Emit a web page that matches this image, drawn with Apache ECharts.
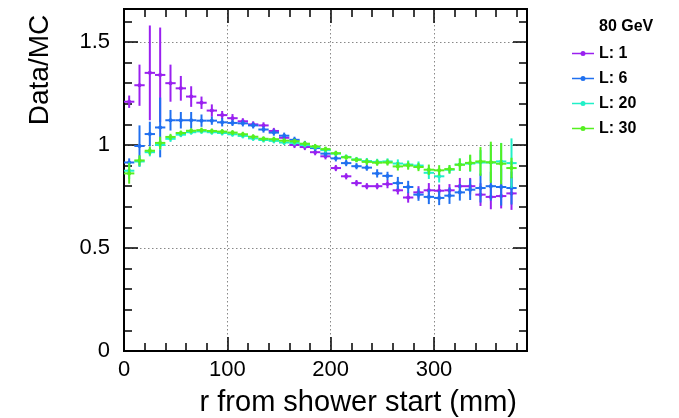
<!DOCTYPE html>
<html>
<head>
<meta charset="utf-8">
<script src="https://cdn.jsdelivr.net/npm/echarts@6/dist/echarts.min.js"></script>
<style>html,body{margin:0;padding:0;background:#fff;}#c{width:679px;height:418px;}</style>
</head>
<body>
<div id="c"></div>
<script>
// bin centres (mm)
const rCenters = [5,15,25,35,45,55,65,75,85,95,105,115,125,135,145,155,165,175,185,195,205,215,225,235,245,255,265,275,285,295,305,315,325,335,345,355,365,375];
const seriesNames = ['L: 1','L: 6','L: 20','L: 30'];
const legendTitle = '80 GeV';
const xTitle = 'r from shower start (mm)';
const yTitle = 'Data/MC';
const xTickLabels = [0,100,200,300];
const yTickLabels = [0,0.5,1,1.5];

const L1 = [1.21,1.29,1.35,1.34,1.30,1.275,1.235,1.205,1.167,1.145,1.13,1.115,1.10,1.095,1.068,1.035,1.00,0.99,0.965,0.945,0.888,0.848,0.815,0.80,0.80,0.81,0.78,0.745,0.77,0.78,0.778,0.78,0.80,0.80,0.759,0.748,0.752,0.765];
const L1err = [0.03,0.10,0.23,0.23,0.09,0.06,0.05,0.03,0.03,0.02,0.02,0.015,0.015,0.015,0.015,0.015,0.015,0.015,0.015,0.015,0.015,0.015,0.015,0.015,0.015,0.02,0.02,0.025,0.03,0.035,0.03,0.03,0.04,0.04,0.055,0.06,0.06,0.08];

const L6 = [0.915,0.995,1.053,1.085,1.12,1.12,1.12,1.118,1.118,1.11,1.107,1.105,1.095,1.075,1.06,1.045,1.025,1.005,0.985,0.958,0.935,0.912,0.897,0.89,0.862,0.85,0.815,0.796,0.759,0.748,0.743,0.754,0.77,0.783,0.791,0.80,0.796,0.791];
const L6err = [0.02,0.10,0.06,0.145,0.05,0.04,0.04,0.03,0.02,0.02,0.015,0.015,0.015,0.015,0.015,0.015,0.015,0.015,0.015,0.015,0.015,0.015,0.015,0.015,0.02,0.02,0.03,0.03,0.03,0.035,0.035,0.04,0.04,0.05,0.07,0.07,0.09,0.08];

const L20 = [0.875,0.92,0.965,1.0,1.03,1.05,1.062,1.066,1.062,1.058,1.052,1.044,1.032,1.024,1.02,1.012,1.01,1.0,0.99,0.975,0.958,0.942,0.93,0.922,0.918,0.92,0.91,0.905,0.90,0.865,0.848,0.88,0.905,0.91,0.915,0.915,0.92,0.912];
const L20err = [0.04,0.025,0.02,0.025,0.015,0.012,0.012,0.012,0.012,0.012,0.012,0.012,0.012,0.012,0.012,0.012,0.012,0.012,0.012,0.012,0.012,0.012,0.012,0.015,0.015,0.015,0.02,0.02,0.02,0.03,0.03,0.02,0.03,0.04,0.06,0.09,0.09,0.12];

const L30 = [0.862,0.925,0.972,1.01,1.039,1.058,1.069,1.072,1.068,1.065,1.06,1.052,1.04,1.03,1.028,1.021,1.018,1.006,0.993,0.98,0.96,0.94,0.928,0.918,0.914,0.915,0.896,0.90,0.893,0.88,0.877,0.883,0.904,0.913,0.92,0.916,0.909,0.888];
const L30err = [0.05,0.025,0.02,0.03,0.015,0.012,0.012,0.012,0.012,0.012,0.012,0.012,0.012,0.012,0.012,0.012,0.012,0.012,0.012,0.012,0.012,0.012,0.012,0.015,0.015,0.015,0.02,0.02,0.02,0.025,0.025,0.02,0.03,0.04,0.07,0.10,0.10,0.05];

const colors = ['#9a20f0','#2070f0','#20f0c8','#55f020'];
const values = [L1, L6, L20, L30];
const errors = [L1err, L6err, L20err, L30err];
const halfBin = 5;

function renderItem(params, api) {
  const x = api.value(0), y = api.value(1), e = api.value(2);
  const c = api.coord([x, y]);
  const l = api.coord([x - halfBin, y]);
  const r = api.coord([x + halfBin, y]);
  const t = api.coord([x, y + e]);
  const b = api.coord([x, y - e]);
  const color = api.visual('color');
  return {
    type: 'group',
    children: [
      {type: 'line', shape: {x1: l[0], y1: c[1], x2: r[0], y2: c[1]}, style: {stroke: color, lineWidth: 2}},
      {type: 'line', shape: {x1: c[0], y1: t[1], x2: c[0], y2: b[1]}, style: {stroke: color, lineWidth: 2}},
      {type: 'circle', shape: {cx: c[0], cy: c[1], r: 2}, style: {fill: color}}
    ]
  };
}

const FONT = 'Liberation Sans, Arial, Helvetica, sans-serif';
const axisLineStyle = {show: true, onZero: false, lineStyle: {color: '#000', width: 2}};
const gridRect = {left: 124, right: 152, top: 9, bottom: 67, containLabel: false};

function xAx(g, pos, major, labels) {
  return {
    gridIndex: g, type: 'value', position: pos, min: 0, max: 390, interval: major ? 100 : 20,
    axisLine: axisLineStyle,
    axisTick: {show: true, inside: true, length: major ? 14 : 8, lineStyle: {color: '#000', width: 1.5}},
    axisLabel: labels ? {show: true, margin: 8, fontSize: 22, color: '#000', fontFamily: FONT,
      formatter: v => (xTickLabels.indexOf(v) >= 0 ? String(v) : '')} : {show: false},
    splitLine: labels ? {show: true, lineStyle: {color: '#888', type: [1.5, 2.5], width: 1}} : {show: false}
  };
}
function yAx(g, pos, major, labels) {
  return {
    gridIndex: g, type: 'value', position: pos, min: 0, max: 1.66, interval: major ? 0.5 : 0.1,
    axisLine: axisLineStyle,
    axisTick: {show: true, inside: true, length: major ? 14 : 8, lineStyle: {color: '#000', width: 1.5}},
    axisLabel: labels ? {show: true, margin: 14, fontSize: 22, color: '#000', fontFamily: FONT,
      formatter: v => { const m = yTickLabels.find(t => Math.abs(t - v) < 1e-6); return m === undefined ? '' : String(m); }} : {show: false},
    splitLine: labels ? {show: true, lineStyle: {color: '#888', type: [1.5, 2.5], width: 1}} : {show: false}
  };
}

const series = seriesNames.map((name, i) => ({
  name: name,
  type: 'custom',
  xAxisIndex: 0, yAxisIndex: 0,
  renderItem: renderItem,
  itemStyle: {color: colors[i]},
  encode: {x: 0, y: 1},
  data: rCenters.map((r, k) => [r, values[i][k], errors[i][k]]),
  z: 2 + i
}));

const chart = echarts.init(document.getElementById('c'), null, {renderer: 'canvas'});
chart.setOption({
  animation: false,
  backgroundColor: '#fff',
  grid: [Object.assign({}, gridRect), Object.assign({}, gridRect), Object.assign({}, gridRect), Object.assign({}, gridRect)],
  xAxis: [xAx(0, 'bottom', true, true), xAx(1, 'bottom', false, false), xAx(2, 'top', true, false), xAx(3, 'top', false, false)],
  yAxis: [yAx(0, 'left', true, true), yAx(1, 'left', false, false), yAx(2, 'right', true, false), yAx(3, 'right', false, false)],
  title: {text: legendTitle, left: 594, top: 14, textStyle: {fontSize: 16, fontWeight: 'bold', color: '#000', fontFamily: FONT}},
  legend: {
    orient: 'vertical', left: 567, top: 40.5, itemWidth: 22, itemHeight: 10, itemGap: 9,
    data: seriesNames.map((n, i) => ({name: n, icon: 'path://M0,4.3H22V5.7H0Z M8.5,5A2.5,2.5 0 1 1 13.5,5A2.5,2.5 0 1 1 8.5,5Z'})),
    textStyle: {fontSize: 16, fontWeight: 'bold', color: '#000', fontFamily: FONT}
  },
  graphic: [
    {type: 'text', x: 517, y: 403, style: {text: xTitle, fontSize: 29, fontFamily: FONT, fill: '#000', textAlign: 'right', textVerticalAlign: 'middle'}},
    {type: 'text', x: 40, y: 70, rotation: Math.PI / 2, style: {text: yTitle, fontSize: 28, fontFamily: FONT, fill: '#000', textAlign: 'center', textVerticalAlign: 'middle'}}
  ],
  series: series
});
</script>
</body>
</html>
